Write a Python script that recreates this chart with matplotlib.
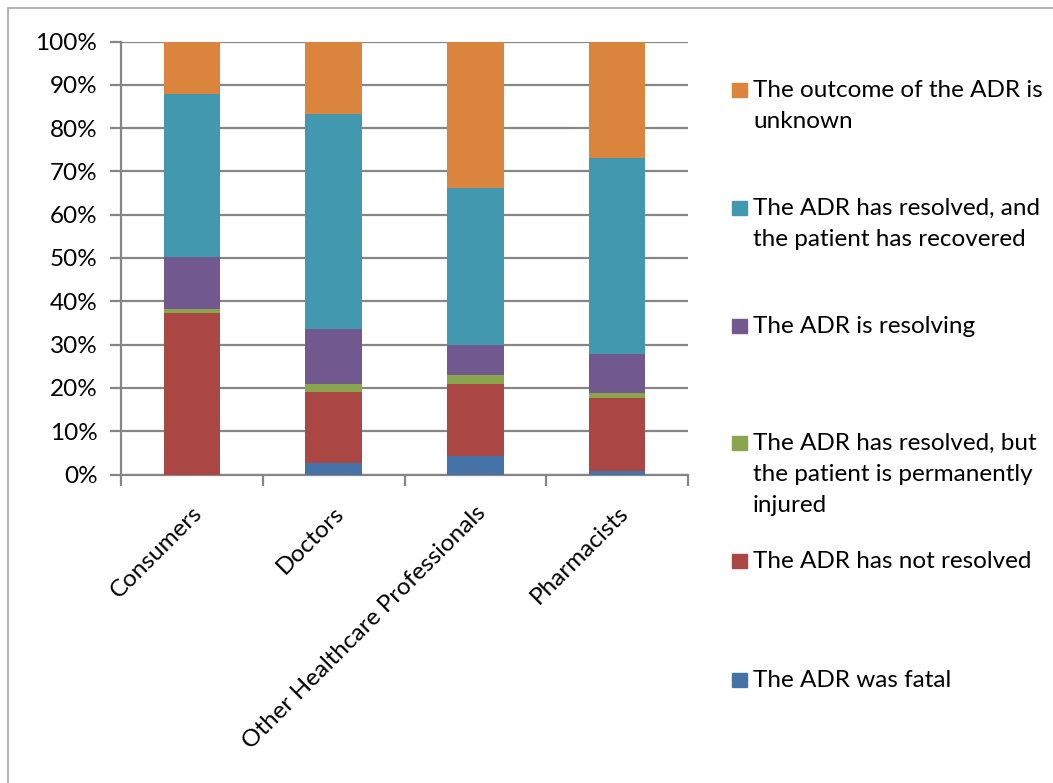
import matplotlib.pyplot as plt
import numpy as np
from matplotlib.patches import Rectangle

plt.rcParams['font.family'] = ['Lato', 'DejaVu Sans']

# Share of reports per reporter group (percent), stacked bottom to top
reporters = ["Consumers", "Doctors", "Other Healthcare Professionals", "Pharmacists"]
fatal = [0.0, 2.6, 4.3, 0.9]
not_resolved = [37.4, 16.5, 16.7, 16.8]
perm_injured = [0.8, 1.8, 2.0, 1.1]
resolving = [12.1, 12.6, 7.0, 9.0]
recovered = [37.6, 49.7, 36.1, 45.2]
unknown = [12.1, 16.8, 33.9, 27.0]

series = [
    ("The ADR was fatal", fatal, "#4572A7"),
    ("The ADR has not resolved", not_resolved, "#AA4643"),
    ("The ADR has resolved, but\nthe patient is permanently\ninjured", perm_injured, "#89A54E"),
    ("The ADR is resolving", resolving, "#71588F"),
    ("The ADR has resolved, and\nthe patient has recovered", recovered, "#4198AF"),
    ("The outcome of the ADR is\nunknown", unknown, "#DB843D"),
]

W, H = 1053, 783
fs = 17.5
fig = plt.figure(figsize=(W / 100, H / 100), dpi=100)
ax = fig.add_axes([121 / W, 1 - 474.5 / H, (688 - 121) / W, (474.5 - 41.5) / H])

grey = "#868686"
x = np.arange(len(reporters))
bottom = np.zeros(len(reporters))
for label, vals, color in series:
    ax.bar(x, vals, width=0.4, bottom=bottom, color=color, zorder=3)
    bottom += np.array(vals)

ax.set_xlim(-0.5, len(reporters) - 0.5)
ax.set_ylim(0, 100)
ax.set_yticks(np.arange(0, 101, 10))
ax.set_yticklabels([f"{v}%" for v in range(0, 101, 10)], fontsize=fs)
ax.yaxis.grid(True, color=grey, linewidth=1.6, zorder=0)
ax.set_axisbelow(True)

ax.set_xticks(x)
ax.set_xticklabels(reporters, rotation=45, ha='right', va='top',
                   rotation_mode='anchor', fontsize=fs)
ax.set_xticks(np.arange(-0.5, len(reporters)), minor=True)
ax.tick_params(axis='x', which='major', length=0, pad=20)
ax.tick_params(axis='x', which='minor', length=8, width=1.6, color=grey)
ax.tick_params(axis='y', length=8, width=1.6, color=grey, pad=9)

for side in ("top", "right"):
    ax.spines[side].set_visible(False)
for side in ("left", "bottom"):
    ax.spines[side].set_color(grey)
    ax.spines[side].set_linewidth(1.6)

# legend drawn by hand, entries evenly spaced from the top
entry_y = [90, 208, 326, 443, 561, 680]
for (label, vals, color), yc in zip(reversed(series), entry_y):
    fig.patches.append(Rectangle((732 / W, 1 - (yc + 7) / H), 15 / W, 14 / H,
                                 transform=fig.transFigure, color=color))
    fig.text(753 / W, 1 - (yc - 10) / H, label, fontsize=fs, va='top',
             ha='left', linespacing=1.6)

# outer chart frame
fig.patches.append(Rectangle((8 / W, -0.1), 1.2, 1 - 8 / H + 0.1,
                             transform=fig.transFigure, fill=False,
                             edgecolor="#A6A6A6", linewidth=1.2))

fig.savefig("out.png", dpi=100)
